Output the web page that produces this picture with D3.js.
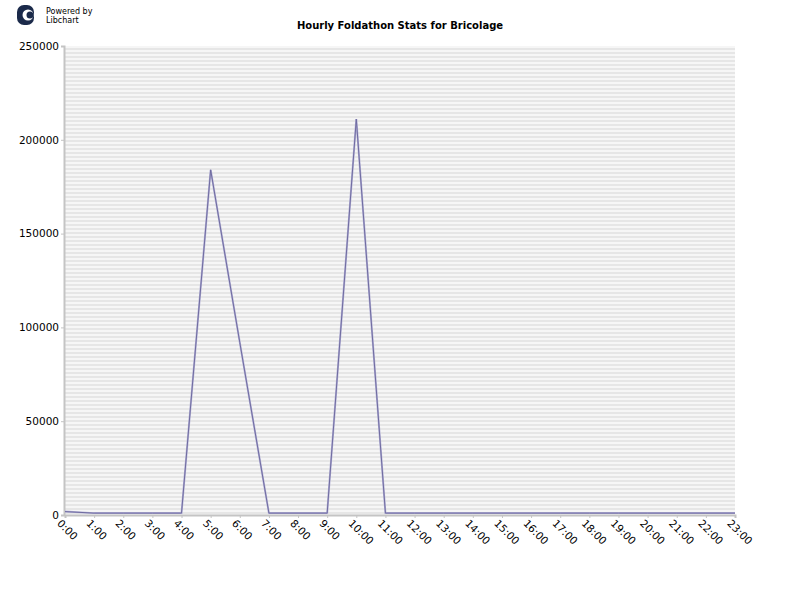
<!DOCTYPE html>
<html><head><meta charset="utf-8">
<script src="https://cdn.jsdelivr.net/npm/d3@7"></script>
<style>body{margin:0;background:#fff}svg{display:block}</style>
</head><body>
<svg id="c" width="800" height="600"></svg>
<script>
const hours = ["0:00","1:00","2:00","3:00","4:00","5:00","6:00","7:00","8:00","9:00","10:00","11:00","12:00","13:00","14:00","15:00","16:00","17:00","18:00","19:00","20:00","21:00","22:00","23:00"];
const values = [1800,1000,1000,1000,1000,184000,92000,1000,1000,1000,211000,1000,1000,1000,1000,1000,1000,1000,1000,1000,1000,1000,1000,1000];
const yTicks = [0,50000,100000,150000,200000,250000];
const title = "Hourly Foldathon Stats for Bricolage";

const svg = d3.select("#c");
const L=65,R=735,T=46,B=515;
const x = d3.scalePoint().domain(hours).range([L,R]);
const y = d3.scaleLinear().domain([0,250000]).range([B,T]);

// striped background
const defs = svg.append("defs");
const pat = defs.append("pattern").attr("id","stripes").attr("patternUnits","userSpaceOnUse").attr("width",8).attr("height",4);
pat.append("rect").attr("width",8).attr("height",4).attr("fill","#f6f6f6");
pat.append("rect").attr("y",0).attr("width",8).attr("height",2).attr("fill","#e6e6e6");
svg.append("rect").attr("x",L).attr("y",T).attr("width",R-L).attr("height",B-T).attr("fill","url(#stripes)");

// logo
const lg = svg.append("g");
lg.append("rect").attr("x",17).attr("y",5).attr("width",17).attr("height",20).attr("rx",7).attr("fill","#1b2a4a");
lg.append("circle").attr("cx",28).attr("cy",15).attr("r",5.5).attr("fill","#fff");
lg.append("circle").attr("cx",30).attr("cy",15).attr("r",3.5).attr("fill","#1b2a4a");
lg.append("text").attr("x",46).attr("y",14).attr("font-family","DejaVu Sans, sans-serif").attr("font-size",8).attr("fill","#000").text("Powered by");
lg.append("text").attr("x",46).attr("y",23).attr("font-family","DejaVu Sans, sans-serif").attr("font-size",8).attr("fill","#000").text("Libchart");

// title
svg.append("text").attr("x",400).attr("y",29).attr("text-anchor","middle").attr("font-family","DejaVu Sans, sans-serif").attr("font-weight","bold").attr("font-size",10).text(title);

// y axis
const ya = svg.append("g").attr("transform",`translate(${L-1},0)`)
  .call(d3.axisLeft(y).tickValues(yTicks).tickFormat(d=>String(d)).tickSize(3).tickPadding(2));
ya.select(".domain").attr("stroke","#c4c4c4").attr("stroke-width",2);
ya.selectAll(".tick line").attr("stroke","#c4c4c4");
ya.selectAll("text").attr("font-family","DejaVu Sans, sans-serif").attr("font-size",10.5).attr("fill","#000");

// x axis
const xa = svg.append("g").attr("transform",`translate(0,${B})`)
  .call(d3.axisBottom(x).tickSize(3).tickPadding(4));
xa.select(".domain").attr("stroke","#c4c4c4").attr("stroke-width",2);
xa.selectAll(".tick line").attr("stroke","#c4c4c4");
xa.selectAll("text").attr("font-family","DejaVu Sans, sans-serif").attr("font-size",10.5).attr("fill","#000")
  .attr("text-anchor","start").attr("dy","0").attr("transform","translate(-4,4) rotate(45)");

// line
const line = d3.line().x((d,i)=>x(hours[i])).y(d=>y(d));
svg.append("path").datum(values).attr("d",line).attr("fill","none").attr("stroke","#b4b2d6").attr("stroke-width",2);
svg.append("path").datum(values).attr("d",line).attr("fill","none").attr("stroke","#6f6ba0").attr("stroke-width",1);
</script>
</body></html>
